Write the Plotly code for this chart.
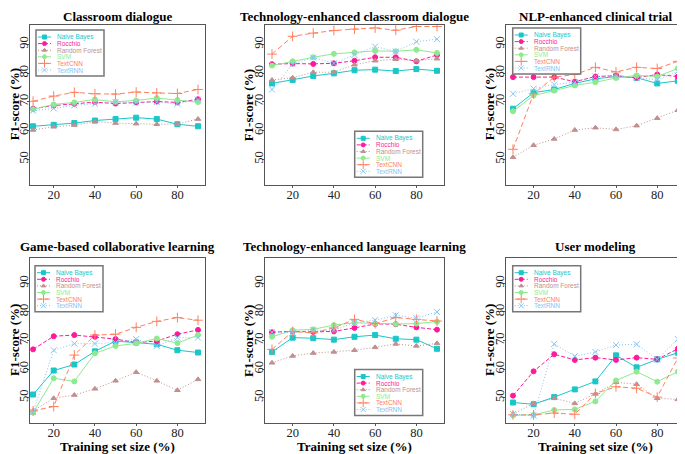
import plotly.graph_objects as go

# the page body has an 8px margin, so the figure is laid out in screen pixels minus OFF
OFF = 8
W, H = 677, 446

sizes = [10, 20, 30, 40, 50, 60, 70, 80, 90]
methods = ["Naive Bayes", "Rocchio", "Random Forest", "SVM", "TextCNN", "TextRNN"]
panel_titles = ["Classroom dialogue", "Technology-enhanced classroom dialogue",
                "NLP-enhanced clinical trial", "Game-based collaborative learning",
                "Technology-enhanced language learning", "User modeling"]
x_ticks = [20, 40, 60, 80]
y_ticks = [50, 60, 70, 80, 90]

# Classroom dialogue
classroom_nb = [61.5, 62.0, 62.6, 63.5, 64.0, 64.5, 64.0, 62.2, 61.5]
classroom_ro = [67.6, 68.7, 69.3, 69.9, 69.4, 69.8, 70.1, 69.8, 70.9]
classroom_rf = [60.2, 61.3, 61.9, 63.1, 62.6, 62.4, 62.2, 62.3, 64.0]
classroom_svm = [67.4, 69.1, 69.8, 70.8, 70.0, 70.5, 71.3, 70.6, 69.9]
classroom_cnn = [70.2, 72.0, 73.3, 72.8, 72.7, 73.4, 73.1, 72.9, 74.3]
classroom_rnn = [66.9, 67.7, 68.8, 69.3, 69.9, 69.7, 69.9, 69.3, 70.8]

# Technology-enhanced classroom dialogue
techclass_nb = [76.4, 77.6, 79.0, 79.9, 81.0, 81.2, 80.7, 81.4, 80.8]
techclass_ro = [83.1, 83.3, 83.2, 83.4, 84.3, 85.5, 85.5, 84.1, 86.3]
techclass_rf = [77.6, 78.4, 80.3, 80.3, 82.9, 84.3, 84.8, 84.3, 85.0]
techclass_svm = [82.6, 84.1, 85.5, 86.7, 87.2, 87.7, 87.6, 88.1, 87.0]
techclass_cnn = [86.6, 92.8, 93.9, 94.8, 95.3, 95.7, 94.9, 96.2, 96.2]
techclass_rnn = [74.3, 83.1, 85.4, 83.4, 86.3, 89.2, 87.5, 90.9, 91.8]

# NLP-enhanced clinical trial
clinical_nb = [67.6, 73.2, 74.3, 76.4, 78.0, 78.8, 78.4, 76.4, 77.3]
clinical_ro = [78.6, 78.6, 78.6, 77.0, 78.8, 79.1, 78.4, 79.5, 78.8]
clinical_rf = [50.7, 54.9, 57.1, 60.2, 61.0, 60.4, 61.7, 64.3, 67.1]
clinical_svm = [66.7, 72.2, 73.9, 75.7, 76.8, 78.3, 79.2, 78.8, 81.6]
clinical_cnn = [53.5, 72.8, 78.6, 79.5, 82.0, 80.4, 82.0, 81.6, 84.1]
clinical_rnn = [72.8, 74.6, 76.0, 76.8, 78.8, 79.1, 78.4, 77.7, 80.6]

# Game-based collaborative learning
game_nb = [51.1, 59.5, 61.6, 66.2, 69.8, 69.3, 68.7, 66.6, 65.8]
game_ro = [66.9, 71.5, 71.9, 71.3, 70.5, 69.3, 69.8, 72.2, 73.7]
game_rf = [45.4, 49.8, 50.9, 53.1, 55.9, 58.9, 55.9, 52.6, 56.4]
game_svm = [44.8, 56.8, 55.7, 65.5, 68.1, 69.0, 70.7, 69.1, 71.9]
game_cnn = [45.4, 46.9, 64.9, 71.9, 72.2, 74.6, 76.7, 78.0, 77.1]
game_rnn = [45.0, 66.6, 68.9, 68.9, 69.3, 70.5, 68.1, 71.0, 71.0]

# Technology-enhanced language learning
language_nb = [66.0, 71.0, 70.8, 70.3, 71.3, 71.9, 70.6, 70.3, 67.1]
language_ro = [72.9, 73.2, 73.0, 73.2, 74.4, 75.8, 75.7, 74.6, 73.8]
language_rf = [62.2, 64.6, 65.6, 66.0, 66.6, 67.6, 68.8, 68.1, 69.0]
language_svm = [71.3, 73.6, 73.9, 75.4, 76.2, 75.9, 75.8, 75.9, 76.6]
language_cnn = [66.9, 73.1, 72.7, 74.4, 77.4, 75.9, 78.0, 77.4, 76.8]
language_rnn = [72.9, 72.7, 73.6, 73.6, 76.2, 77.1, 78.8, 77.8, 80.0]

# User modeling
user_nb = [48.3, 47.7, 50.2, 52.9, 55.7, 64.8, 60.6, 63.4, 65.7]
user_ro = [50.7, 59.2, 65.2, 63.2, 64.0, 63.2, 64.0, 63.4, 67.1]
user_rf = [44.2, 48.0, 49.8, 48.0, 51.3, 55.4, 54.7, 49.8, 49.4]
user_svm = [43.8, 44.0, 45.7, 45.9, 48.7, 56.0, 59.1, 55.6, 59.1]
user_cnn = [44.0, 44.0, 44.6, 44.2, 51.5, 53.8, 53.3, 50.2, 63.9]
user_rnn = [44.3, 43.7, 68.8, 64.5, 66.0, 68.4, 68.7, 63.4, 70.5]

panels = [
    [classroom_nb, classroom_ro, classroom_rf, classroom_svm, classroom_cnn, classroom_rnn],
    [techclass_nb, techclass_ro, techclass_rf, techclass_svm, techclass_cnn, techclass_rnn],
    [clinical_nb, clinical_ro, clinical_rf, clinical_svm, clinical_cnn, clinical_rnn],
    [game_nb, game_ro, game_rf, game_svm, game_cnn, game_rnn],
    [language_nb, language_ro, language_rf, language_svm, language_cnn, language_rnn],
    [user_nb, user_ro, user_rf, user_svm, user_cnn, user_rnn],
]

# styles: colour, dash, marker symbol, marker size
colors = ["#1cc6c8", "#ff1a9a", "#c09090", "#8eea8e", "#ff8060", "#86c4f5"]
dashes = ["solid", "4px,2px", "1px,2px", "solid", "5px,3px", "1px,2px"]
symbols = ["square", "circle", "triangle-up", "circle", "cross-thin-open", "x-thin-open"]
msizes = [5, 5, 5, 5, 7, 6]

# frame boxes in screen pixels (left, right, top, bottom) and axis ranges
col_lr = [(30.0, 204.6), (265.4, 443.6), (506.4, 684.4)]
col_xrange = [[8.5, 93.2], [6.8, 93.2], [6.8, 93.2]]
row_tb = [(24.5, 185.2), (257.6, 423.4)]
row_yrange = [[41, 96.9], [41, 99]]
ytitle_x = [14.5, 248.5, 489.5]
title_y = [16.6, 246.5]
# legend box top-left corners in screen pixels
legend_pos = [(36.0, 30.0), (354.7, 131.3), (512.7, 28.0),
              (35.0, 265.7), (354.7, 369.5), (512.7, 265.7)]


def px(x):
    return (x - OFF) / W


def py(y):
    return 1 - (y - OFF) / H


serif = "Liberation Serif, Times New Roman, serif"
bold = dict(family=serif, size=13, color="black", weight="bold")
fig = go.Figure()
layout = dict(width=W, height=H, margin=dict(l=0, r=0, t=0, b=0),
              plot_bgcolor="rgba(0,0,0,0)", paper_bgcolor="white", showlegend=False)
annotations = []
shapes = []

for p in range(6):
    r, c = divmod(p, 3)
    left, right = col_lr[c]
    top, bottom = row_tb[r]
    xa = "xaxis" if p == 0 else f"xaxis{p + 1}"
    ya = "yaxis" if p == 0 else f"yaxis{p + 1}"
    xr = "x" if p == 0 else f"x{p + 1}"
    yr = "y" if p == 0 else f"y{p + 1}"
    axis_common = dict(showline=True, mirror=True, linecolor="#555", linewidth=1,
                       ticks="outside", ticklen=2, tickcolor="#555", showgrid=False,
                       zeroline=False, tickfont=dict(family=serif, size=12.5, color="#222"))
    layout[xa] = dict(domain=[px(left), px(right)], range=col_xrange[c], anchor=yr,
                      tickvals=x_ticks, ticklabelstandoff=-4, **axis_common)
    layout[ya] = dict(domain=[py(bottom), py(top)], range=row_yrange[r], anchor=xr,
                      tickvals=y_ticks, tickangle=-90, ticklabelstandoff=-6, **axis_common)

    for i, vals in enumerate(panels[p]):
        fig.add_trace(go.Scatter(
            x=sizes, y=vals, xaxis=xr, yaxis=yr, mode="lines+markers", name=methods[i],
            line=dict(color=colors[i], width=1, dash=dashes[i]),
            marker=dict(symbol=symbols[i], size=msizes[i], color=colors[i],
                        line=dict(color=colors[i], width=1))))

    annotations.append(dict(text=panel_titles[p], xref="paper", yref="paper",
                            x=px((left + right) / 2), y=py(title_y[r]),
                            showarrow=False, xanchor="center", yanchor="middle", font=bold))
    annotations.append(dict(text="F1-score (%)", xref="paper", yref="paper",
                            x=px(ytitle_x[c]), y=py((top + bottom) / 2), textangle=-90,
                            showarrow=False, xanchor="center", yanchor="middle", font=bold))
    if r == 1:
        annotations.append(dict(text="Training set size (%)", xref="paper", yref="paper",
                                x=px((left + right) / 2), y=py(446),
                                showarrow=False, xanchor="center", yanchor="middle", font=bold))

    # legend box, drawn on the pixel overlay axis
    lx, ly = legend_pos[p]
    shapes.append(dict(type="rect", xref="x7", yref="y7", x0=lx, x1=lx + 68, y0=ly, y1=ly + 46,
                       line=dict(color="#777", width=1.5), fillcolor="white", layer="below"))
    for i, name in enumerate(methods):
        yy = ly + 7 + i * 6.6
        annotations.append(dict(text=name, xref="x7", yref="y7", x=lx + 19, y=yy,
                                showarrow=False, xanchor="left", yanchor="middle",
                                font=dict(family="Liberation Sans, Arial, sans-serif",
                                          size=6.5, color=colors[i])))

# legend keys (line sample + symbol) on the pixel overlay axis
for i in range(6):
    kx, ky, mx, my = [], [], [], []
    for p in range(6):
        lx, ly = legend_pos[p]
        yy = ly + 7 + i * 6.6
        kx += [lx + 2, lx + 15, None]
        ky += [yy, yy, None]
        mx.append(lx + 8.5)
        my.append(yy)
    fig.add_trace(go.Scatter(x=kx, y=ky, xaxis="x7", yaxis="y7", mode="lines",
                             line=dict(color=colors[i], width=1, dash=dashes[i])))
    fig.add_trace(go.Scatter(x=mx, y=my, xaxis="x7", yaxis="y7", mode="markers",
                             marker=dict(symbol=symbols[i], size=max(msizes[i] - 1, 4),
                                         color=colors[i], line=dict(color=colors[i], width=1))))

layout["xaxis7"] = dict(domain=[0, 1], range=[OFF, OFF + W], visible=False, anchor="y7",
                        fixedrange=True)
layout["yaxis7"] = dict(domain=[0, 1], range=[OFF + H, OFF], visible=False, anchor="x7",
                        fixedrange=True)
layout["annotations"] = annotations
layout["shapes"] = shapes
fig.update_layout(**layout)

fig.write_html("out.html")
